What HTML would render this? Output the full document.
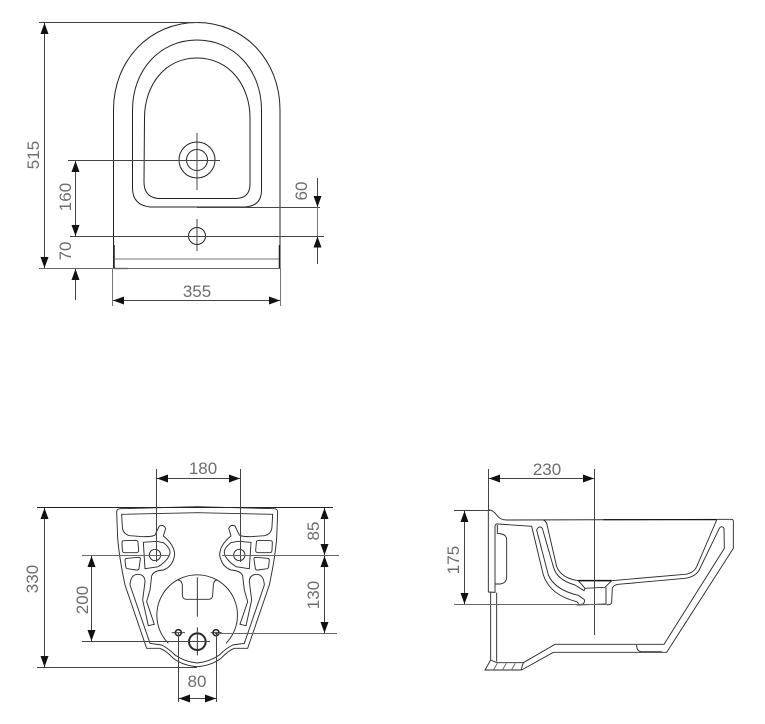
<!DOCTYPE html>
<html>
<head>
<meta charset="utf-8">
<style>
html,body{margin:0;padding:0;background:#fff;width:765px;height:724px;overflow:hidden}
svg{display:block}
text{font-family:"Liberation Sans",sans-serif;font-size:17px;fill:#6e6e6e;text-anchor:middle}
.d{stroke:#444;stroke-width:1;fill:none}
.o{stroke:#222;stroke-width:1;fill:none}
.a{marker-start:url(#ar);marker-end:url(#ar)}
.e{marker-end:url(#ar)}
.z{stroke:#2a2a2a;stroke-width:2.8;fill:none}
</style>
</head>
<body>
<svg width="765" height="724" viewBox="0 0 765 724" xmlns="http://www.w3.org/2000/svg">
<defs>
<marker id="ar" markerUnits="userSpaceOnUse" markerWidth="12" markerHeight="8" refX="11" refY="4" orient="auto-start-reverse">
<path d="M0 0L11 4L0 8Z" fill="#111"/>
</marker>
<g id="half">
<!-- outer outline -->
<path d="M292 20L60 26Q50 27 50 36L53 115Q58 175 75 255L140 445L180 445Q198 452 220 475Q250 497 292 500"/>
<!-- inner outline -->
<path d="M90 255L150 430L185 435Q205 445 225 465Q255 486 292 489"/>
<!-- arm + lobe -->
<path d="M90 255Q92 222 115 223Q135 225 135 245L128 300L145 377L163 373L140 305L150 270L155 228Q160 212 190 210Q218 200 224 165Q224 135 190 108L197 85Q190 72 178 78L165 105Q160 110 130 110L90 107Q68 103 67 80L65 43L292 38"/>
<!-- pocket -->
<path d="M130 127L170 124L190 128Q212 145 210 160Q205 180 175 200L135 206Z"/>
<circle cx="165" cy="165" r="17"/>
<path d="M71 122L108 121Q114 122 114 128L116 152Q115 158 108 158L72 158Q67 157 67 150L66 128Q66 122 71 122Z"/>
<path d="M80 175L116 172Q122 172 121 178L117 206Q115 211 109 210L82 206Q77 205 77 198L75 180Q76 175 80 175Z"/>
</g>
</defs>

<!-- TOP VIEW -->
<g class="o">
<path d="M113.500 268V110C113.500 60 150 22.500 197 22.500C244 22.500 280 60 280 110V268"/>
<path d="M114 245V268.500M279.500 245V268.500" stroke-width="1.5"/>
<path d="M132.500 110C132.500 70 160 40 197 40C234 40 261.500 70 261.500 110V190Q261.500 206 245 207L150 207Q132.500 205 132.500 188Z"/>
<path d="M144.500 118C144.500 85 165 58 197 58C229 58 250 85 250 118V184Q250 198 236 198.500L158 198.500Q144 197 144 182Z"/>
<circle cx="197" cy="160" r="18"/>
<circle cx="197" cy="160" r="10.500"/>
<circle cx="197" cy="236" r="8.500"/>
<path d="M115 259H279" stroke="#777"/>
<path d="M114 268.500H128" stroke-width="1.300"/>
</g>
<g class="d">
<path d="M39 22.500H197"/>
<path d="M39 268.500H280" stroke="#666"/>
<path class="a" d="M44.500 23V268"/>
<path d="M68 160.500H220M197 133V190M197 219V251M70 236.500H324M197 207.500H320"/>
<path class="a" d="M75.500 161V236"/>
<path class="e" d="M75.500 300V269"/>
<path class="e" d="M317.500 178V207"/>
<path class="e" d="M317.500 264V236.500"/>
<path d="M317.500 207V236" stroke="#777"/>
<path d="M112.500 268V306M280.500 268V306" stroke="#777"/>
<path class="a" d="M113 300.500H280"/>
</g>
<text x="197" y="297">355</text>
<text transform="translate(39,155) rotate(-90)">515</text>
<text transform="translate(71,197) rotate(-90)">160</text>
<text transform="translate(71,251) rotate(-90)">70</text>
<text transform="translate(307,191) rotate(-90)">60</text>

<!-- BOTTOM-LEFT VIEW -->
<g transform="translate(100,500) scale(.33333)" class="z">
<use href="#half"/>
<use href="#half" transform="translate(583,0) scale(-1,1)"/>
<path d="M205 430A121 121 0 1 1 378 430"/>
<path d="M233 240Q245 240 247 255L247 285Q248 298 260 298L325 298Q338 298 338 285L340 255Q342 240 352 240"/>
<path d="M292 232V350"/>
<circle cx="235" cy="398" r="9" stroke-width="5"/>
<circle cx="348" cy="398" r="9" stroke-width="5"/>
<circle cx="292" cy="425" r="25" stroke-width="6"/>
<path d="M215 398H255M332 398H365M292 382V466"/>
</g>
<g class="d">
<path d="M37 507.500H333" stroke="#222"/>
<path d="M37 667.500H197"/>
<path class="a" d="M44.500 508V667"/>
<path d="M156.500 469V562M240.500 469V562"/>
<path class="a" d="M157 478.500H240"/>
<path d="M82 555.500H170M222 555.500H339" stroke="#666"/>
<path d="M82 641.500H210"/>
<path class="a" d="M91.500 556V641"/>
<path class="a" d="M324.500 508V555"/>
<path class="a" d="M324.500 556V633"/>
<path d="M215 633.500H337" stroke="#666"/>
<path d="M178.500 633V702M216.500 633V702"/>
<path class="a" d="M179 698.500H216"/>
</g>
<text x="203" y="474">180</text>
<text x="197" y="687">80</text>
<text transform="translate(38,579) rotate(-90)">330</text>
<text transform="translate(88,600) rotate(-90)">200</text>
<text transform="translate(319,531) rotate(-90)">85</text>
<text transform="translate(319,595) rotate(-90)">130</text>

<!-- SIDE VIEW -->
<g transform="translate(440,460) scale(.33333)" class="z">
<path d="M145 150L150 150Q160 152 170 165Q180 180 200 180L875 178Q880 178 880 185L880 265L680 577L340 577L245 630"/>
<path d="M490 179H830" stroke-width="3.600" stroke="#111"/>
<path d="M145 150V396L165 397V200Q165 190 175 192L275 199L310 345Q330 405 410 425Q420 432 410 435L430 432Q436 422 432 418L415 406Q345 390 325 345L290 210Q297 195 307 205L340 320Q350 360 405 375L432 392L435 385L415 362Q365 355 350 320L320 190Q316 182 310 180"/>
<path d="M415 362L515 362" stroke-width="4.500" stroke="#111"/>
<path d="M515 362L735 343Q760 340 770 320L830 180"/>
<path d="M515 362L495 382L435 385M498 382V430M410 435L500 432"/>
<path d="M500 434Q516 436 515 425L517 385Q520 375 535 373L735 355Q770 350 780 325L838 205Q845 195 852 205L853 265L672 553L345 553L250 608"/>
<path d="M590 555Q590 575 605 575L665 575"/>
<path d="M172 195V220L185 222Q200 225 200 240V350Q200 370 180 372L165 372"/>
<path d="M152 398V600M170 398V605"/>
<path d="M152 600L135 630L243 630L250 608L170 608L152 600"/>
<path d="M160 630L172 610M187 630L199 610M214 630L226 610" stroke="#666"/>
</g>
<g class="d">
<path d="M488.500 469V510M594.500 469V635"/>
<path class="a" d="M489 478.500H594"/>
<path d="M454 510.500H490"/>
<path d="M454 604.500H606" stroke="#666"/>
<path class="a" d="M464.500 511V604"/>
</g>
<text x="547" y="475">230</text>
<text transform="translate(459,560) rotate(-90)">175</text>
</svg>
</body>
</html>
